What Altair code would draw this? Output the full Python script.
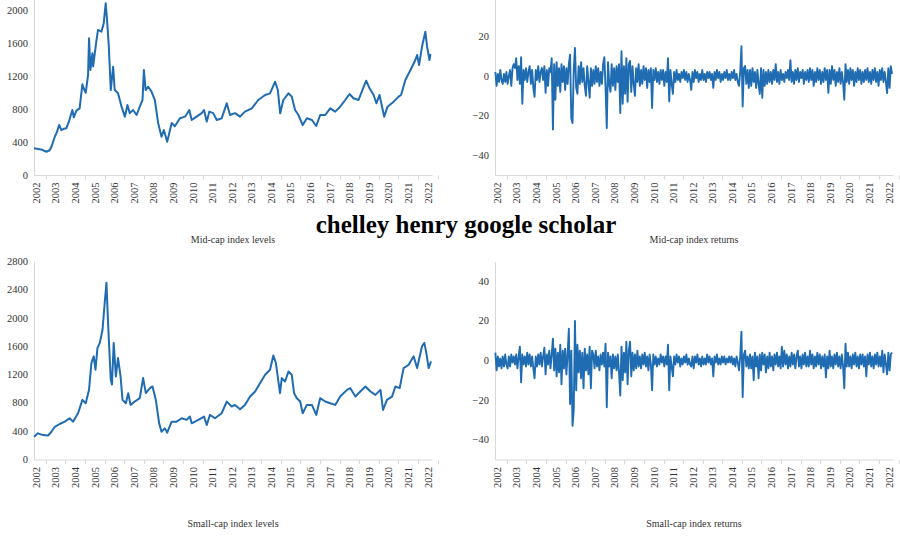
import altair as alt
import pandas as pd

BLUE = "#1f6cb3"
FONT = "Liberation Serif"
X_DOMAIN = [2001.88, 2022.2]
YEARS = list(range(2002, 2023))

title_text = "chelley henry google scholar"
captions = ["Mid-cap index levels", "Mid-cap index returns",
            "Small-cap index levels", "Small-cap index returns"]

# ---- Mid-cap index levels (year position, level) ----
mid_years = [2001.88, 2002.1, 2002.3, 2002.51, 2002.68, 2002.77, 2002.94, 2003.05, 2003.16, 2003.28,
             2003.4, 2003.53, 2003.65, 2003.79, 2003.84, 2003.91, 2004.05, 2004.21, 2004.35, 2004.38,
             2004.52, 2004.64, 2004.69, 2004.76, 2004.86, 2004.9, 2005.07, 2005.15, 2005.32, 2005.44,
             2005.54, 2005.61, 2005.7, 2005.8, 2005.92, 2006.0, 2006.17, 2006.35, 2006.52, 2006.65,
             2006.77, 2006.94, 2007.12, 2007.28, 2007.42, 2007.49, 2007.58, 2007.71, 2007.88, 2008.05,
             2008.22, 2008.39, 2008.51, 2008.68, 2008.91, 2009.07, 2009.33, 2009.59, 2009.81, 2009.93,
             2010.18, 2010.44, 2010.56, 2010.7, 2010.83, 2011.03, 2011.21, 2011.46, 2011.72, 2011.89,
             2012.14, 2012.4, 2012.65, 2013.0, 2013.33, 2013.68, 2013.93, 2014.19, 2014.33, 2014.45,
             2014.61, 2014.87, 2015.04, 2015.21, 2015.38, 2015.6, 2015.81, 2016.07, 2016.29, 2016.49,
             2016.75, 2017.0, 2017.26, 2017.51, 2017.77, 2017.99, 2018.19, 2018.45, 2018.68, 2018.84,
             2019.01, 2019.22, 2019.36, 2019.52, 2019.76, 2019.93, 2020.24, 2020.5, 2020.62, 2020.84,
             2021.1, 2021.35, 2021.44, 2021.54, 2021.69, 2021.86, 2021.95, 2022.07, 2022.12]
mid_levels = [324, 315, 305, 282, 300, 343, 464, 520, 606, 545,
              560, 566, 640, 748, 788, 700, 780, 808, 1100, 1070,
              997, 1212, 1657, 1273, 1475, 1316, 1636, 1758, 1737, 1838,
              2081, 1879, 1555, 1030, 1313, 1030, 990, 828, 707, 848,
              750, 788, 727, 828, 909, 1273, 1030, 1070, 1010, 909,
              626, 464, 545, 404, 630, 590, 687, 707, 788, 667,
              707, 750, 788, 647, 768, 750, 667, 687, 869, 727,
              750, 707, 768, 808, 909, 970, 990, 1131, 1030, 748,
              909, 990, 950, 788, 727, 606, 687, 667, 594, 727,
              727, 808, 768, 828, 909, 982, 930, 909, 1051, 1143,
              1051, 970, 869, 970, 707, 828, 889, 950, 970, 1152,
              1273, 1394, 1455, 1333, 1555, 1737, 1555, 1394, 1467]

# ---- Small-cap index levels ----
small_years = [2001.88, 2002.08, 2002.34, 2002.6, 2002.77, 2002.94, 2003.19, 2003.45, 2003.7, 2003.87,
               2004.13, 2004.35, 2004.52, 2004.69, 2004.81, 2004.93, 2005.02, 2005.12, 2005.24, 2005.38,
               2005.49, 2005.58, 2005.66, 2005.8, 2005.86, 2005.95, 2006.06, 2006.17, 2006.3, 2006.4,
               2006.57, 2006.69, 2006.81, 2007.03, 2007.28, 2007.45, 2007.59, 2007.8, 2007.93, 2008.1,
               2008.27, 2008.39, 2008.56, 2008.68, 2008.91, 2009.16, 2009.42, 2009.67, 2009.84, 2009.93,
               2010.27, 2010.56, 2010.7, 2010.86, 2011.12, 2011.46, 2011.72, 2011.97, 2012.14, 2012.4,
               2012.65, 2012.91, 2013.17, 2013.42, 2013.68, 2013.93, 2014.1, 2014.23, 2014.44, 2014.53,
               2014.7, 2014.87, 2015.04, 2015.16, 2015.3, 2015.47, 2015.6, 2015.81, 2016.07, 2016.29,
               2016.49, 2016.75, 2017.0, 2017.26, 2017.51, 2017.86, 2018.03, 2018.29, 2018.54, 2018.8,
               2019.06, 2019.31, 2019.57, 2019.7, 2019.9, 2020.16, 2020.33, 2020.55, 2020.75, 2021.01,
               2021.26, 2021.44, 2021.69, 2021.81, 2021.91, 2022.03, 2022.15]
small_levels = [321, 370, 345, 340, 392, 463, 502, 535, 583, 535,
                654, 843, 796, 985, 1364, 1459, 1270, 1578, 1649, 1838,
                2217, 2501, 1933, 1127, 1060, 1649, 1174, 1435, 1174, 843,
                796, 938, 772, 820, 867, 1151, 938, 1009, 1033, 843,
                512, 392, 440, 380, 535, 535, 583, 560, 607, 512,
                560, 607, 488, 630, 583, 654, 819, 749, 772, 711,
                772, 890, 961, 1080, 1198, 1269, 1470, 1364, 938, 1151,
                1103, 1245, 1198, 938, 867, 820, 654, 772, 772, 630,
                867, 820, 796, 772, 890, 985, 1009, 890, 961, 1033,
                961, 914, 985, 701, 843, 890, 1033, 1009, 1293, 1340,
                1459, 1293, 1601, 1649, 1506, 1293, 1388]

# ---- Returns: 16 readings per year-row, first reading at ret_start ----
ret_start = 2001.9
ret_per_year = 16
mid_returns = [
    [2, -5, 1, -3, 3, -2, -4, 1, -3, 2, -4, 0, 3, -5, 4, 6],
    [4, 9, -2, 5, -4, 9.5, -14, 3, -2, 4, -3, 2, 5, -4, 3, -6],
    [-10.5, 3, -2, 5, -3, 2, 4, -2, 5, -8.5, 3, -5, 4, 2, 9, -27],
    [6, -12, 7, -5, 4, -8, 6, -3, 5, -7, 4, -4, 6, 10.8, -21.3, -23.8],
    [3, 14.2, -6, -9, 5, -4, 7, -3, 4, -5, -10, 5, -3, -11, 4, -5],
    [3, -4, 5, -3, 4, -5, 2, -4, 6, 9.5, -6, -26.3, 7, -4, -8, 6],
    [-5, 4, -7, 5, -3, 6, -18.7, 12.5, -14, 5, -9, 9, -13, 6, 7.6, -8],
    [5, -4, -10, 4, -3, 6, -5, 3, -4, 5, -2, 4, -6, 3, -3, 4],
    [-16.2, 3, -2, 4, -3, 2, -4, 3, -2, 3, -5, 2, -3, 9, -12.8, 3],
    [-4, -9, 2, -3, 3, -2, 1, -3, 2, -1, 3, -2, 2, -3, 1, -2],
    [-7, 2, -3, 3, -1, 2, -3, 1, -2, 3, -2, 1, -3, 2, -1, 2],
    [-2, 1, -6, 2, -2, 3, -1, 2, -3, 1, -2, 2, -1, 3, -2, 1],
    [-2, 2, -1, 3, -2, 1, -3, -5, 2, 15, -15.4, 4, 5, -4, 3, -6],
    [3, -5, 4, -3, 2, -6, 3, -4, -9, 4, -11, 3, -5, 2, -4, 3],
    [-3, 2, -4, 3, -2, 6, -3, 2, -4, 3, -2, 1, -3, 2, -1, 3],
    [-2, 8, -3, 2, -4, 3, -2, 4, -3, 2, -1, 3, -4, 2, -2, 3],
    [-3, 4, -2, 3, -5, 2, -3, 4, -2, 3, -4, 2, -3, 4, -2, 3],
    [-8.5, 3, -4, 5, -2, 3, -5, 2, -3, 4, -4, 2, -3, -12, 6, -3],
    [3, -4, 4, -2, 3, -5, 2, -3, 4, -2, 3, -4, 2, -3, 3, -2],
    [4, -3, 2, -4, 3, -2, 4, -3, 2, -5, 3, -2, 4, -3, 2, -3],
    [-8.6, 4, -6, 5, 1],
]
small_returns = [
    [4, -5, 2, -3, 1, -4, 2, -3, 3, -2, -4, 2, -3, 3, -1, 2],
    [-2, 3, -4, 2, 7, -11, 3, -2, 2, -3, 4, -2, 3, -3, 2, -4],
    [-9, 2, -3, 3, -2, 4, -3, 2, 6.5, -7, 3, -2, 5, -4, 3, 11],
    [-5, 6, -8, 4, -6, 8, -12, 5, -4, 6, -7, 3, 16, -22, 5, -33],
    [-25, 20, -15, 8, -6, 5, -9, 4, -14, 6, -5, 3, -7, 7, -14, 5],
    [3, -4, 5, -3, 2, -5, 3, -2, 4, -3, 8.5, -23.6, 4, -3, 2, -9],
    [3, -4, 2, -5, 3, -6, -17.7, 7, -10, 4, -6, 9.5, -12, 5, 9.5, -8],
    [4, -5, 3, -4, 5, -3, 2, -4, 3, -2, 4, -3, 2, -5, 3, -2],
    [-15, 3, -2, 2, -3, 1, -2, 3, -1, 2, -3, 2, -2, 8, -15, 2],
    [-3, -8, 2, -2, 3, -1, 2, -3, 1, -2, 2, -1, 3, -2, 1, -2],
    [-3, 2, -4, 2, -1, 3, -2, 1, -3, 2, -2, 1, -2, 3, -1, 2],
    [-2, 1, -8, 2, -1, 3, -2, 1, -2, 2, -1, 2, -2, 1, -1, 2],
    [-1, 2, -2, 1, -3, 2, -1, -5, 2, 14.6, -18.5, 3, 5, -3, 2, -4],
    [3, -4, 2, -10, 4, -3, 2, -9, 3, -5, 4, -2, 3, -6, 2, -4],
    [4, -3, 2, -5, 3, -2, 4, -3, 2, -4, 7, -3, 5, -2, 3, -4],
    [2, -3, 4, -2, 3, -4, 2, 5, -3, 2, -4, 3, -2, 4, -3, 2],
    [-3, 5, -2, 3, -4, 2, -3, 4, -2, 3, -4, 2, -3, 3, -8.5, 2],
    [-4, 5, -3, 2, -4, 3, -2, 4, -3, 2, -4, 3, -3, -14, 8.5, -3],
    [4, -3, 2, -4, 3, -2, 4, -3, 2, -4, 3, -2, 3, -3, 2, -8],
    [3, -2, 4, -3, 2, -4, 3, -2, 4, -3, 2, -3, 5, -6, 3, -2],
    [-7, 4, -5, 3, 4],
]

level_ticks_mid = [0, 400, 800, 1200, 1600, 2000]
level_ticks_small = [0, 400, 800, 1200, 1600, 2000, 2400, 2800]
return_ticks = [-40, -20, 0, 20, 40]

W, H = 398, 198
LABEL_COLOR = "#333333"


def returns_frame(rows):
    vals = [v for row in rows for v in row]
    return pd.DataFrame({"year": [ret_start + i / ret_per_year for i in range(len(vals))],
                         "value": vals})


def x_axis():
    return alt.Axis(values=YEARS, format="d", title=None, labelAngle=-90, labelOverlap=False,
                    labelFlush=False, ticks=True, tickSize=4, tickColor="#d9d9d9",
                    tickOffset=9.5, labelOffset=-9.5, labelPadding=3,
                    labelFont=FONT, labelFontSize=10.5, labelColor=LABEL_COLOR,
                    domainColor="#d9d9d9")


def y_axis(vals):
    return alt.Axis(values=vals, format="d", title=None, ticks=False, tickSize=0,
                    labelPadding=6.5, labelOverlap=False, labelFlush=False,
                    labelFont=FONT, labelFontSize=10.5, labelColor=LABEL_COLOR,
                    domainColor="#d9d9d9")


def panel(df, ydom, yvals, caption=None, sw=1.9, show_x=True, extra=None):
    line = alt.Chart(df).mark_line(color=BLUE, strokeWidth=sw, strokeJoin="round").encode(
        x=alt.X("year:Q", scale=alt.Scale(domain=X_DOMAIN, nice=False, zero=False),
                axis=x_axis() if show_x else None),
        y=alt.Y("value:Q", scale=alt.Scale(domain=ydom, nice=False, zero=False),
                axis=y_axis(yvals)),
    )
    layers = [line]
    if caption:
        layers.append(
            alt.Chart(alt.Data(values=[{"t": caption}])).mark_text(
                font=FONT, fontSize=10, color=LABEL_COLOR, align="center", baseline="middle"
            ).encode(text="t:N", x=alt.value(W / 2), y=alt.value(H + 64.5))
        )
    if extra is not None:
        layers.append(extra)
    return alt.layer(*layers).properties(width=W, height=H)


big_title = alt.Chart(alt.Data(values=[{"t": title_text}])).mark_text(
    font=FONT, fontSize=25, fontWeight="bold", color="#000000", align="center", baseline="alphabetic"
).encode(text="t:N", x=alt.value(432), y=alt.value(256))

mid_df = pd.DataFrame({"year": mid_years, "value": mid_levels})
small_df = pd.DataFrame({"year": small_years, "value": small_levels})
empty_df = pd.DataFrame({"year": pd.Series([], dtype=float), "value": pd.Series([], dtype=float)})

tl = panel(mid_df, [0, 2400], level_ticks_mid, captions[0], sw=2.0, extra=big_title)
tr = panel(returns_frame(mid_returns), [-50, 50], return_ticks, captions[1], sw=1.9)
bl = panel(small_df, [0, 2800], level_ticks_small, captions[2], sw=2.0)
br = panel(returns_frame(small_returns), [-50, 50], return_ticks, captions[3], sw=1.9)
l3 = panel(empty_df, [0, 3500], [3500], show_x=False)
r3 = panel(empty_df, [-50, 50], return_ticks, show_x=False)

chart = alt.concat(
    tl, tr, bl, br, l3, r3,
    columns=2,
    spacing={"row": 86.5, "column": 63},
    bounds="flush",
).properties(
    padding={"left": 6, "top": -23, "right": 0, "bottom": -210},
    background="white",
).configure_view(
    strokeWidth=0
).configure_axis(
    grid=False,
)

chart.save("out.html", embed_options={"renderer": "svg", "actions": False})
